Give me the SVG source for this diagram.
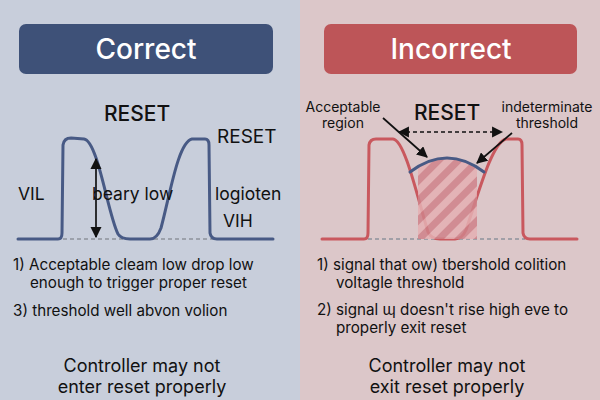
<svg xmlns="http://www.w3.org/2000/svg" width="600" height="400" viewBox="0 0 600 400">
<style>
text{font-family:Inter,"Liberation Sans",sans-serif;fill:#111;}
.title{fill:#fff;font-size:28px;font-weight:500;text-anchor:middle;}
.big{font-size:21px;font-weight:500;}
.lbl{font-size:17.5px;}
.small{font-size:14px;}
.item{font-size:15.2px;}
.concl{font-size:18px;text-anchor:middle;}
.wave{fill:none;stroke-width:3;stroke-linejoin:round;stroke-linecap:round;}
.base{stroke:#8d929c;stroke-width:1.5;stroke-dasharray:4 3;fill:none;}
.arr{stroke:#111;stroke-width:1.7;fill:none;}
</style>
<defs>
<marker id="ah" viewBox="0 0 10 10" refX="9" refY="5" markerWidth="6.5" markerHeight="6.5" orient="auto-start-reverse"><path d="M0,0 L10,5 L0,10 Z" fill="#111"/></marker>
<pattern id="hatch" width="14" height="14" patternUnits="userSpaceOnUse" patternTransform="rotate(45)"><rect width="14" height="14" fill="#e4b0b3"/><rect width="7" height="14" fill="#cf8289"/></pattern>
</defs>
<rect x="0" y="0" width="300" height="400" fill="#c8cedb"/>
<rect x="300" y="0" width="300" height="400" fill="#dcc7c9"/>
<g id="correct-title"><rect x="19" y="24" width="254" height="50" rx="7" fill="#3e5178"/><text class="title" x="146" y="59">Correct</text></g>
<g id="incorrect-title"><rect x="324" y="24" width="253" height="50" rx="7" fill="#bd5558"/><text class="title" x="451" y="59">Incorrect</text></g>
<g id="correct-wave">
<text class="big" x="137" y="121" text-anchor="middle">RESET</text>
<text class="lbl" x="217" y="143" style="font-size:19px">RESET</text>
<line class="base" x1="63" y1="239" x2="215" y2="239"/>
<path class="wave" stroke="#485a85" stroke-width="3.3" d="M18,239 L58,239 Q62,239 62,233 L63,145 Q64,138 71,138 L84,139 C98,141 108,215 118,234 Q121,239 130,239 L150,239 Q157,239 161,228 C170,195 178,142 192,139 L205,139 Q209,139 209,145 L210,233 Q211,239 217,239 L273,239"/>
<line class="arr" x1="96" y1="159" x2="96" y2="237" marker-start="url(#ah)" marker-end="url(#ah)"/>
<text class="lbl" x="18" y="200">VIL</text>
<text class="lbl" x="92" y="200">beary low</text>
<text class="lbl" x="215" y="200">logioten</text>
<text class="lbl" x="223" y="227">VIH</text>
</g>
<g id="incorrect-wave">
<text class="big" x="447" y="120" text-anchor="middle">RESET</text>
<text class="small" x="343" y="112" text-anchor="middle">Acceptable</text>
<text class="small" x="343" y="128" text-anchor="middle">region</text>
<text class="small" x="547" y="112" text-anchor="middle">indeterminate</text>
<text class="small" x="547" y="128" text-anchor="middle">threshold</text>
<line class="base" x1="368" y1="239" x2="525" y2="239"/>
<path class="wave" stroke="#c9585e" stroke-width="2.5" d="M322,239 L364,239 Q368,239 368,233 L369,145 Q370,139 376,139 L393,139 C405,140 418,200 428,232 Q431,239 440,239 L455,239 Q462,239 466,230 C478,195 492,142 506,139 L518,139 Q522,139 522,145 L523,233 Q524,239 530,239 L577,239"/>
<path d="M418,167 Q447,151 477,167 L477,239 L418,239 Z" fill="url(#hatch)" opacity="0.85"/>
<path d="M410,172 Q447,144 484,172" fill="none" stroke="#485a85" stroke-width="3" stroke-linecap="round"/>
</g>
<g id="connectors">
<line class="arr" x1="399" y1="132" x2="502" y2="132" stroke-dasharray="4 3" marker-start="url(#ah)" marker-end="url(#ah)"/>
<line class="arr" x1="383" y1="118" x2="427" y2="157" marker-end="url(#ah)"/>
<line class="arr" x1="512" y1="133" x2="477" y2="163" marker-end="url(#ah)"/>
</g>
<g id="correct-notes">
<text class="item" x="13" y="270">1) Acceptable cleam low drop low</text>
<text class="item" x="30" y="288">enough to trigger proper reset</text>
<text class="item" x="13" y="316">3) threshold well abvon volion</text>
<text class="concl" x="142" y="372">Controller may not</text>
<text class="concl" x="142" y="393">enter reset properly</text>
</g>
<g id="incorrect-notes">
<text class="item" x="317" y="270">1) signal that ow)  tbershold colition</text>
<text class="item" x="336" y="288">voltagle threshold</text>
<text class="item" x="317" y="315">2) signal ɰ doesn't rise high eve to</text>
<text class="item" x="336" y="333">properly exit reset</text>
<text class="concl" x="447" y="372">Controller may not</text>
<text class="concl" x="447" y="393">exit reset properly</text>
</g>
</svg>
